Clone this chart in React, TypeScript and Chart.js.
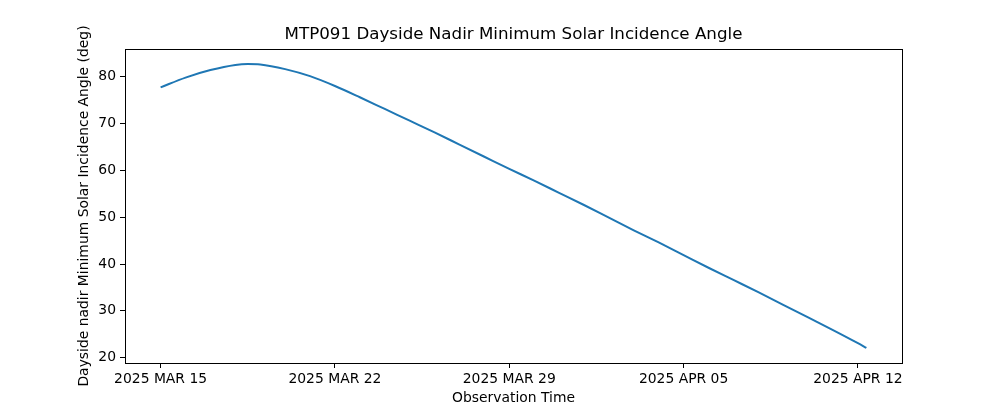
import React, { useEffect, useRef } from "react";
import { Chart, registerables } from "chart.js";

Chart.register(...registerables);

// Days since 2025 MAR 15 00:00
const dayOffsets = [0, 1, 2, 3, 3.5, 4, 5, 6, 7, 8, 9, 10, 11, 12, 13, 14, 15, 16, 17, 18, 19, 20, 21, 22, 23, 24, 25, 26, 27, 28, 28.34];
const incidenceDeg = [77.7, 79.8, 81.4, 82.5, 82.7, 82.6, 81.6, 80.1, 78.0, 75.6, 73.1, 70.6, 68.1, 65.5, 62.9, 60.3, 57.8, 55.2, 52.6, 49.9, 47.2, 44.6, 41.9, 39.2, 36.6, 34.0, 31.3, 28.6, 25.9, 23.1, 22.1];
const xTickDays = [0, 7, 14, 21, 28];
const xTickLabels = ["2025 MAR 15", "2025 MAR 22", "2025 MAR 29", "2025 APR 05", "2025 APR 12"];
const yTickValues = [20, 30, 40, 50, 60, 70, 80];

const TITLE = "MTP091 Dayside Nadir Minimum Solar Incidence Angle";
const X_TITLE = "Observation Time";
const Y_TITLE = "Dayside nadir Minimum Solar Incidence Angle (deg)";
const FONT = "'DejaVu Sans', sans-serif";

export default function App() {
  const ref = useRef<HTMLCanvasElement | null>(null);

  useEffect(() => {
    document.body.style.margin = "0";
    const canvas = ref.current;
    if (!canvas) return;

    const decor = {
      id: "decor",
      afterDraw(chart: any) {
        const { ctx, chartArea } = chart;
        ctx.save();
        ctx.strokeStyle = "#000";
        ctx.lineWidth = 1;
        ctx.strokeRect(
          Math.round(chartArea.left) + 0.5,
          Math.round(chartArea.top) + 0.5,
          Math.round(chartArea.right - chartArea.left),
          Math.round(chartArea.bottom - chartArea.top)
        );
        ctx.fillStyle = "#000";
        ctx.textAlign = "center";
        ctx.textBaseline = "middle";
        ctx.font = `16.7px ${FONT}`;
        const cx = (chartArea.left + chartArea.right) / 2;
        ctx.fillText(TITLE, cx, 35);
        ctx.font = `13.9px ${FONT}`;
        ctx.fillText(X_TITLE, cx, 398);
        ctx.translate(84, (chartArea.top + chartArea.bottom) / 2);
        ctx.rotate(-Math.PI / 2);
        ctx.fillText(Y_TITLE, 0, 0);
        ctx.restore();
      },
    };

    const chart = new Chart(canvas, {
      type: "line",
      data: {
        datasets: [
          {
            data: dayOffsets.map((d, i) => ({ x: d, y: incidenceDeg[i] })),
            borderColor: "#1f77b4",
            borderWidth: 2,
            pointRadius: 0,
            cubicInterpolationMode: "monotone",
            fill: false,
          },
        ],
      },
      options: {
        animation: false,
        responsive: false,
        devicePixelRatio: 1,
        layout: { padding: { left: 0, right: 100, top: 49, bottom: 0 } },
        plugins: { legend: { display: false }, title: { display: false }, tooltip: { enabled: false } },
        scales: {
          x: {
            type: "linear",
            min: -1.43,
            max: 29.77,
            afterBuildTicks: (scale: any) => {
              scale.ticks = xTickDays.map((v) => ({ value: v }));
            },
            afterFit: (scale: any) => {
              scale.height = 45;
            },
            grid: { drawOnChartArea: false, drawTicks: true, tickLength: 5, color: "#000", tickColor: "#000" },
            border: { display: false },
            ticks: {
              color: "#000",
              font: { family: FONT, size: 13.9 },
              padding: 3,
              maxRotation: 0,
              autoSkip: false,
              callback: (v: any) => {
                const i = xTickDays.indexOf(Number(v));
                return i >= 0 ? xTickLabels[i] : "";
              },
            },
          },
          y: {
            type: "linear",
            min: 18.87,
            max: 85.9,
            afterBuildTicks: (scale: any) => {
              scale.ticks = yTickValues.map((v) => ({ value: v }));
            },
            afterFit: (scale: any) => {
              scale.width = 125;
            },
            grid: { drawOnChartArea: false, drawTicks: true, tickLength: 5, color: "#000", tickColor: "#000" },
            border: { display: false },
            ticks: {
              color: "#000",
              font: { family: FONT, size: 13.9 },
              padding: 4,
              autoSkip: false,
            },
          },
        },
      },
      plugins: [decor],
    });

    return () => chart.destroy();
  }, []);

  return (
    <div style={{ position: "absolute", left: 0, top: 0, width: 1002, height: 408, background: "#fff" }}>
      <canvas ref={ref} width={1002} height={408} style={{ width: 1002, height: 408, display: "block" }} />
    </div>
  );
}
